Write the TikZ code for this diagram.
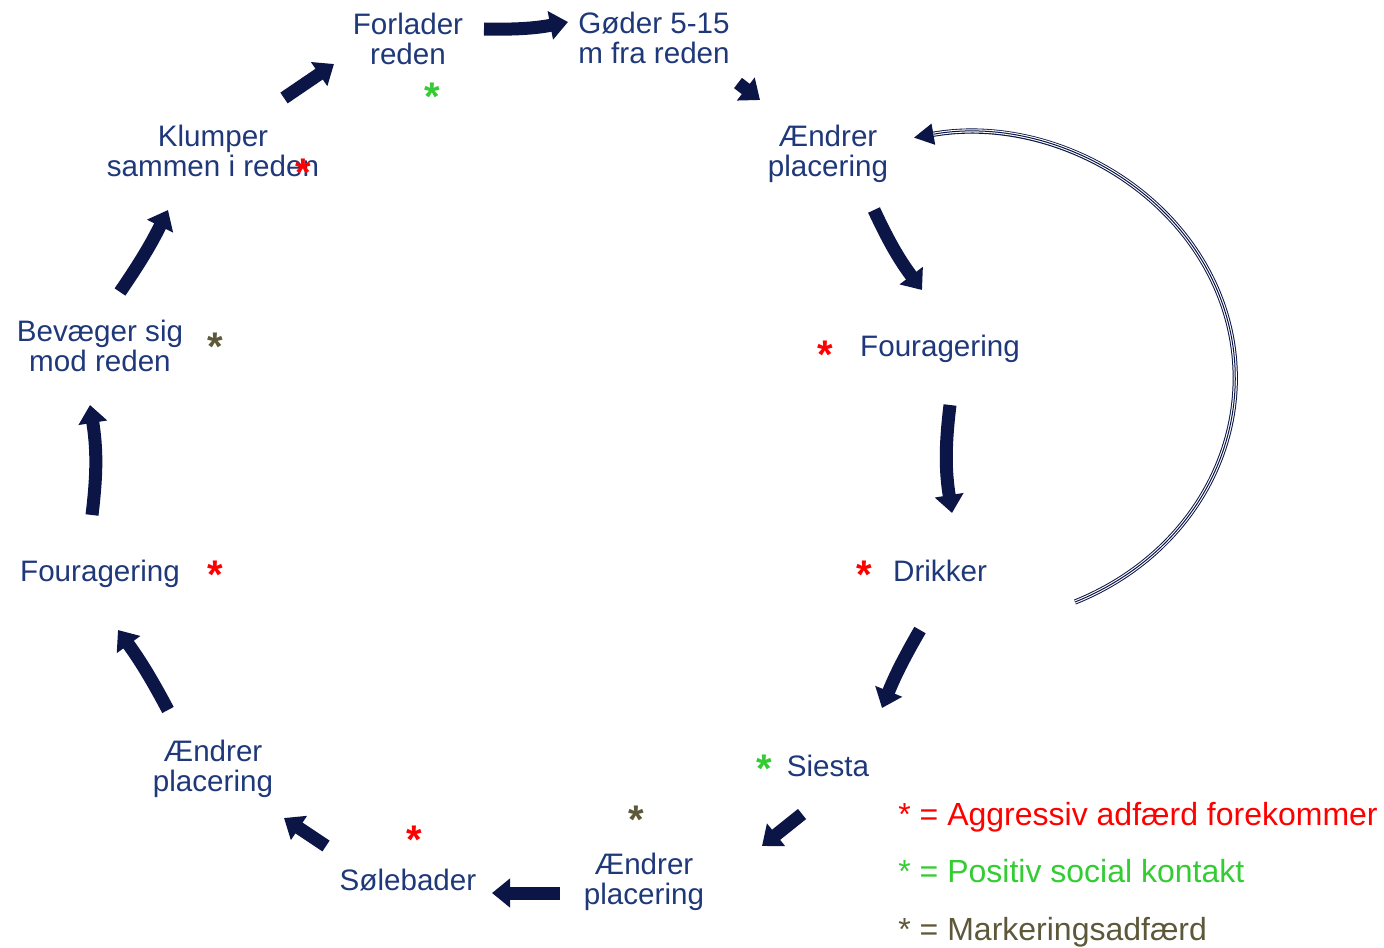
\documentclass[tikz,border=0pt]{standalone}
\usepackage{fontspec}
\setmainfont{Liberation Sans}
\usetikzlibrary{arrows.meta}
\definecolor{textblue}{RGB}{31,56,122}
\definecolor{arrowblue}{RGB}{12,22,70}
\definecolor{aggred}{RGB}{255,0,0}
\definecolor{posgreen}{RGB}{51,204,51}
\definecolor{markbrown}{RGB}{94,88,58}
\begin{document}
\begin{tikzpicture}[x=0.5pt, y=-0.5pt,
    state/.style={text=textblue, align=center, inner sep=0pt, font=\fontsize{14.8}{15}\selectfont},
    flow/.style={draw=arrowblue, line width=6.5pt, -{Triangle[width=14pt,length=9pt]}},
    star/.style={anchor=north, inner sep=0pt, font=\fontsize{20}{20}\selectfont\bfseries},
    legend/.style={anchor=base west, inner sep=0pt, font=\fontsize{16}{16}\selectfont}]
    \useasboundingbox (0,0) rectangle (1384,947);
    % states of the day
    \node [state] (forlader) at (408,39) {Forlader\\reden};
    \node [state] (goder) at (654,38) {Gøder 5-15\\m fra reden};
    \node [state] (aendrerA) at (828,154) {Ændrer\\placering};
    \node [state] (fouraA) at (940,349) {Fouragering};
    \node [state] (drikker) at (940,571) {Drikker};
    \node [state] (siesta) at (828,766) {Siesta};
    \node [state] (aendrerB) at (644,882) {Ændrer\\placering};
    \node [state] (solebader) at (408,880) {Sølebader};
    \node [state] (aendrerC) at (213,769) {Ændrer\\placering};
    \node [state] (fouraB) at (100,574) {Fouragering};
    \node [state] (bevaeger) at (100,346) {Bevæger sig\\mod reden};
    \node [state] (klumper) at (213,151) {Klumper\\sammen i reden};
    % behaviour marks
    \node [star, text=posgreen] (s1) at (432,83) {*};
    \node [star, text=aggred] (s2) at (303,159) {*};
    \node [star, text=markbrown] (s3) at (215,333) {*};
    \node [star, text=aggred] (s4) at (215,561) {*};
    \node [star, text=aggred] (s5) at (825,341) {*};
    \node [star, text=aggred] (s6) at (864,561) {*};
    \node [star, text=posgreen] (s7) at (764,755) {*};
    \node [star, text=markbrown] (s8) at (636,806) {*};
    \node [star, text=aggred] (s9) at (414,826) {*};
    % cycle arrows
    \draw [flow] (284,98) -- (334,64);
    \draw [flow] (484,29) to[bend right=6] (568,22);
    \draw [flow] (738,83) -- (760,100);
    \draw [flow] (874,210) to[bend right=6] (922,290);
    \draw [flow] (950,405) to[bend right=8] (952,513);
    \draw [flow] (920,630) to[bend right=4] (882,708);
    \draw [flow] (802,814) -- (762,846);
    \draw [flow] (560,893) -- (492,893);
    \draw [flow] (326,846) -- (284,818);
    \draw [flow] (168,710) to[bend right=4] (118,630);
    \draw [flow] (92,515) to[bend right=8] (90,405);
    \draw [flow] (120,292) to[bend right=4] (168,210);
    % back loop from Drikker
    \draw [arrowblue, line width=2.6pt, -{Triangle[width=10pt,length=10pt]}]
        (1075,602) arc[start angle=66, end angle=-101, x radius=270, y radius=245];
    \draw [white, line width=1.6pt, shorten >=10pt]
        (1075,602) arc[start angle=66, end angle=-101, x radius=270, y radius=245];
    \draw [arrowblue, line width=0.5pt, shorten >=10pt]
        (1075,602) arc[start angle=66, end angle=-101, x radius=270, y radius=245];
    % legend
    \node [legend, text=aggred] (legA) at (898,825) {* = Aggressiv adfærd forekommer};
    \node [legend, text=posgreen] (legB) at (898,882) {* = Positiv social kontakt};
    \node [legend, text=markbrown] (legC) at (898,940) {* = Markeringsadfærd};
\end{tikzpicture}
\end{document}
